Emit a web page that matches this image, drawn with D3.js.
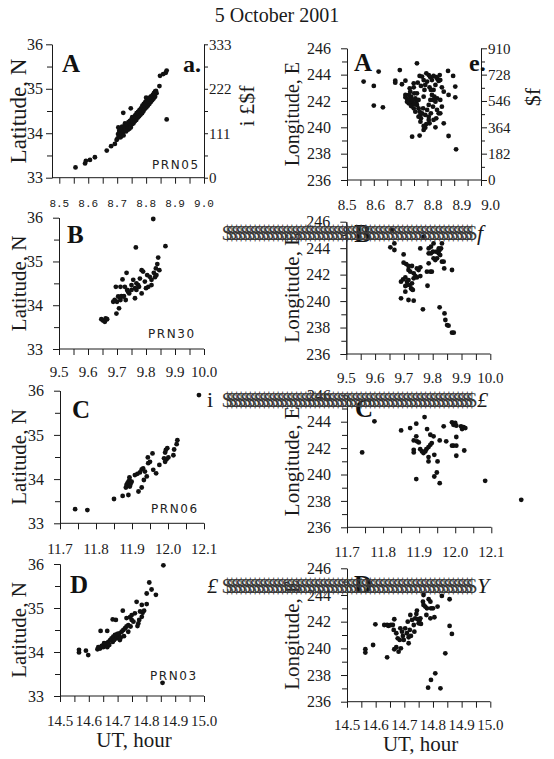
<!DOCTYPE html>
<html>
<head>
<meta charset="utf-8">
<script src="https://cdn.jsdelivr.net/npm/d3@7"></script>
<style>
  body { margin: 0; background: #fff; }
</style>
</head>
<body>
<svg id="chart" width="554" height="759"></svg>
<script>
// UT hour, latitude / longitude pairs
const prn05Lat = [
  [8.556,33.23],[8.589,33.32],[8.592,33.38],[8.606,33.40],[8.623,33.46],[8.664,33.61],[8.679,33.71],
  [8.692,33.76],[8.698,33.85],[8.712,33.91],[8.721,34.46],[8.747,34.56],[8.871,34.31],[8.846,35.06],
  [8.848,35.29],[8.859,35.33],[8.868,35.36],[8.871,35.41],[8.831,34.94],[8.823,34.86],
  [8.701,33.88],[8.703,33.98],[8.706,33.93],[8.707,34.05],[8.704,34.13],[8.711,33.96],[8.712,34.02],
  [8.709,34.10],[8.716,33.99],[8.714,34.08],[8.717,34.15],[8.721,34.03],[8.719,34.12],[8.722,33.95],
  [8.726,34.06],[8.724,34.15],[8.727,34.22],[8.731,34.04],[8.729,34.10],[8.732,34.18],[8.736,34.12],
  [8.734,34.20],[8.737,34.08],[8.741,34.15],[8.739,34.25],[8.742,34.10],[8.746,34.18],[8.744,34.28],
  [8.747,34.13],[8.751,34.20],[8.749,34.30],[8.752,34.36],[8.756,34.22],[8.754,34.28],[8.757,34.34],
  [8.761,34.27],[8.759,34.34],[8.762,34.40],[8.766,34.30],[8.764,34.38],[8.767,34.45],[8.771,34.35],
  [8.769,34.42],[8.772,34.48],[8.776,34.38],[8.774,34.45],[8.777,34.52],[8.781,34.42],[8.779,34.50],
  [8.782,34.56],[8.786,34.45],[8.784,34.53],[8.787,34.62],[8.791,34.50],[8.789,34.58],[8.792,34.66],
  [8.796,34.55],[8.794,34.62],[8.797,34.70],[8.801,34.58],[8.799,34.66],[8.802,34.74],[8.800,34.80],
  [8.806,34.62],[8.804,34.70],[8.807,34.77],[8.811,34.66],[8.809,34.73],[8.812,34.80],[8.816,34.70],
  [8.814,34.76],[8.817,34.83],[8.821,34.74],[8.819,34.80],[8.826,34.78],[8.824,34.84],[8.827,34.90],
  [8.831,34.82],[8.829,34.88],[8.836,34.90],[8.834,34.95]
];
const prn05Lon = [
  [8.562,243.47],[8.600,243.14],[8.600,241.65],[8.618,244.23],[8.634,241.52],[8.680,243.54],[8.680,243.39],
  [8.697,244.35],[8.705,243.27],[8.718,243.54],[8.718,242.46],[8.718,242.28],[8.743,239.29],[8.761,244.86],
  [8.771,239.37],[8.786,239.80],[8.792,239.97],[8.808,240.30],[8.830,240.00],[8.879,239.34],[8.877,244.28],
  [8.896,243.90],[8.904,243.09],[8.904,242.28],[8.907,238.33],[8.861,240.30],[8.879,242.46],
  [8.734,242.96],[8.736,242.71],[8.739,242.33],[8.736,242.08],[8.743,241.82],[8.734,241.95],[8.749,243.04],
  [8.751,242.58],[8.755,242.20],[8.759,241.95],[8.761,241.70],[8.767,241.44],[8.771,241.19],[8.774,240.94],
  [8.776,240.68],[8.780,241.06],[8.784,241.44],[8.786,242.33],[8.789,242.84],[8.792,243.22],[8.786,243.59],
  [8.780,243.85],[8.771,243.90],[8.796,244.10],[8.805,243.97],[8.811,243.80],[8.817,243.59],[8.823,243.90],
  [8.833,243.80],[8.838,243.65],[8.842,243.52],[8.848,243.59],[8.846,243.97],[8.830,243.22],[8.823,242.84],
  [8.817,242.46],[8.811,242.08],[8.805,241.70],[8.799,241.32],[8.792,240.94],[8.805,240.81],[8.813,241.06],
  [8.821,241.57],[8.830,241.95],[8.836,242.20],[8.848,242.08],[8.854,243.04],[8.861,242.71],[8.854,241.57],
  [8.836,241.32],[8.842,241.06],[8.848,241.06],[8.833,240.68],[8.823,240.56],[8.805,240.56],[8.796,240.25],
  [8.786,240.10],[8.761,242.58],[8.767,242.08],[8.749,241.44],[8.755,241.19],[8.767,240.81],[8.774,240.43],
  [8.749,243.34],[8.764,243.39],[8.776,243.14],[8.799,243.47],[8.808,243.04],[8.813,242.84],[8.826,242.33],
  [8.821,242.08],[8.726,242.13],[8.730,241.82],[8.724,241.95],[8.739,241.62],[8.746,242.08],[8.731,242.46],
  [8.751,241.77]
];
const prn30Lat = [
  [9.646,33.68],[9.652,33.65],[9.658,33.62],[9.661,33.70],[9.666,33.68],[9.696,34.42],[9.698,33.81],
  [9.700,34.08],[9.707,33.93],[9.712,34.42],[9.712,34.12],[9.719,34.59],[9.721,34.20],[9.727,34.42],
  [9.733,34.74],[9.735,34.35],[9.742,34.27],[9.750,34.46],[9.756,34.58],[9.762,34.16],[9.765,35.32],
  [9.767,34.35],[9.773,34.46],[9.779,34.61],[9.785,34.27],[9.785,34.80],[9.790,34.77],[9.796,34.54],
  [9.800,34.39],[9.804,34.69],[9.813,34.65],[9.819,34.58],[9.825,35.97],[9.827,34.74],[9.834,34.84],
  [9.836,34.69],[9.839,34.94],[9.846,34.80],[9.842,35.09],[9.867,35.35],[9.687,34.08],[9.692,34.12],
  [9.704,34.20],[9.710,34.18],[9.715,34.21],[9.724,34.21],[9.730,34.12],[9.738,34.31],[9.750,34.35],
  [9.762,34.39],[9.767,34.50],[9.776,34.42],[9.808,34.42],[9.819,34.46],[9.831,34.64]
];
const prn30Lon = [
  [9.653,244.06],[9.667,243.86],[9.667,244.36],[9.659,245.37],[9.699,243.53],[9.699,242.90],[9.708,242.80],
  [9.716,242.65],[9.728,242.65],[9.716,242.35],[9.722,242.22],[9.734,242.10],[9.745,242.47],[9.751,242.35],
  [9.690,241.47],[9.697,241.64],[9.705,241.79],[9.711,241.47],[9.716,241.59],[9.720,241.21],[9.728,241.34],
  [9.734,241.72],[9.740,241.89],[9.745,241.79],[9.725,240.96],[9.728,240.89],[9.731,240.84],[9.711,241.21],
  [9.705,241.14],[9.690,240.21],[9.705,240.71],[9.716,240.08],[9.734,240.03],[9.757,241.89],[9.757,242.55],
  [9.766,239.38],[9.757,243.98],[9.769,244.87],[9.782,241.16],[9.780,242.22],[9.786,242.85],[9.786,243.61],
  [9.786,243.98],[9.794,244.11],[9.794,243.61],[9.801,243.73],[9.803,243.23],[9.809,243.10],[9.815,243.23],
  [9.821,243.61],[9.824,243.86],[9.829,243.98],[9.832,244.36],[9.826,243.48],[9.821,243.98],[9.813,243.73],
  [9.803,244.36],[9.797,242.22],[9.792,242.22],[9.832,242.98],[9.838,242.98],[9.840,242.47],[9.867,242.35],
  [9.824,239.53],[9.841,239.07],[9.844,238.57],[9.850,238.19],[9.855,238.14],[9.867,237.61],[9.873,237.61]
];
const prn06Lat = [
  [11.742,33.32],[11.776,33.30],[11.850,33.55],[11.874,33.62],[11.883,33.81],[11.885,33.87],[11.887,33.90],
  [11.890,33.94],[11.893,33.98],[11.894,33.83],[11.896,33.89],[11.899,33.94],[11.893,34.04],[11.890,33.64],
  [11.918,33.72],[11.927,33.81],[11.933,33.98],[11.908,34.09],[11.915,34.12],[11.922,34.15],[11.927,34.22],
  [11.931,34.24],[11.936,34.17],[11.941,34.06],[11.944,34.49],[11.950,34.39],[11.957,34.58],[11.959,34.21],
  [11.967,34.13],[11.976,34.32],[11.989,34.47],[11.992,34.60],[11.994,34.66],[11.998,34.70],[11.996,34.45],
  [12.001,34.49],[12.015,34.54],[12.017,34.67],[12.024,34.79],[12.026,34.88],[12.086,35.90],[11.992,34.39],
  [11.945,34.36]
];
const prn06Lon = [
  [11.742,241.67],[11.776,244.03],[11.850,243.34],[11.875,243.52],[11.885,242.58],[11.892,243.85],[11.892,242.89],
  [11.885,241.87],[11.885,241.67],[11.894,242.51],[11.899,242.43],[11.903,241.92],[11.908,241.75],[11.912,241.62],
  [11.917,241.75],[11.920,241.92],[11.926,242.08],[11.931,242.25],[11.935,242.38],[11.892,239.65],[11.915,244.35],
  [11.922,243.44],[11.926,241.32],[11.926,240.99],[11.931,243.01],[11.940,242.89],[11.942,241.49],[11.942,239.85],
  [11.949,240.15],[11.951,240.99],[11.957,239.34],[11.957,242.58],[11.968,243.65],[11.975,242.51],[11.991,243.95],
  [11.995,243.77],[12.000,243.90],[12.003,243.70],[11.991,242.18],[11.995,242.18],[12.003,242.18],[12.003,242.84],
  [12.003,241.42],[12.016,243.65],[12.019,243.44],[12.023,243.59],[12.028,243.52],[12.025,241.82],[12.083,239.52],
  [12.183,238.08]
];
const prn03Lat = [
  [14.566,34.05],[14.566,33.99],[14.590,34.03],[14.598,33.93],[14.630,34.06],[14.639,34.08],[14.641,34.48],
  [14.650,34.11],[14.656,34.16],[14.662,34.20],[14.664,34.11],[14.668,34.23],[14.674,34.27],[14.679,34.31],
  [14.683,34.23],[14.685,34.35],[14.691,34.39],[14.697,34.31],[14.703,34.36],[14.706,34.42],[14.711,34.33],
  [14.714,34.46],[14.720,34.50],[14.722,34.36],[14.726,34.54],[14.731,34.58],[14.737,34.61],[14.737,34.46],
  [14.664,34.48],[14.683,34.74],[14.694,34.73],[14.718,34.94],[14.731,34.77],[14.743,34.79],[14.749,34.73],
  [14.755,34.69],[14.749,34.84],[14.760,34.88],[14.766,35.14],[14.769,34.59],[14.772,34.65],[14.775,34.73],
  [14.784,34.80],[14.787,34.89],[14.792,34.94],[14.778,34.92],[14.784,35.07],[14.801,35.09],[14.801,35.33],
  [14.810,35.58],[14.818,35.42],[14.833,35.30],[14.859,35.97],[14.856,33.30],[14.633,34.11],[14.645,34.14],
  [14.653,34.20],[14.671,34.16],[14.688,34.27],[14.699,34.41],[14.708,34.27],[14.745,34.58]
];
const prn03Lon = [
  [14.564,239.93],[14.564,239.68],[14.591,240.25],[14.599,241.80],[14.630,241.75],[14.640,241.75],[14.645,241.68],
  [14.653,241.75],[14.660,241.75],[14.640,239.33],[14.665,242.18],[14.665,239.93],[14.672,240.08],[14.680,239.75],
  [14.688,240.00],[14.663,241.38],[14.672,241.13],[14.677,240.75],[14.684,240.63],[14.686,241.50],[14.692,241.25],
  [14.695,240.93],[14.698,240.63],[14.703,241.50],[14.709,241.13],[14.715,240.83],[14.719,241.38],[14.723,240.93],
  [14.715,240.38],[14.712,242.00],[14.721,242.50],[14.727,242.13],[14.733,241.75],[14.735,241.25],[14.738,242.25],
  [14.742,242.58],[14.744,242.83],[14.747,242.18],[14.750,241.88],[14.753,242.08],[14.756,242.25],[14.758,241.83],
  [14.767,244.00],[14.765,243.50],[14.767,243.25],[14.773,243.13],[14.779,243.00],[14.785,243.68],[14.791,243.50],
  [14.793,243.00],[14.777,242.50],[14.791,242.25],[14.805,242.33],[14.800,243.00],[14.816,243.13],[14.831,243.93],
  [14.858,243.68],[14.858,241.68],[14.866,241.08],[14.843,239.63],[14.808,238.13],[14.793,237.63],[14.783,237.05],
  [14.826,237.00]
];

const latTicks = [33, 34, 35, 36];
const latMinor = [33.5, 34.5, 35.5];
const lonTicks = [236, 238, 240, 242, 244, 246];
const lonMinor = [237, 239, 241, 243, 245];
const rightTicksA = [0, 111, 222, 333];
const rightTicksE = [0, 182, 364, 546, 728, 910];
const utTicksA = [8.5, 8.6, 8.7, 8.8, 8.9, 9.0];
const utTicksB = [9.5, 9.6, 9.7, 9.8, 9.9, 10.0];
const utTicksC = [11.7, 11.8, 11.9, 12.0, 12.1];
const utTicksD = [14.5, 14.6, 14.7, 14.8, 14.9, 15.0];

const serif = "'Liberation Serif', 'Times New Roman', serif";
const ink = "#1a1a1a";
const svg = d3.select("#chart");

svg.append("text")
  .attr("x", 277).attr("y", 22)
  .attr("text-anchor", "middle")
  .attr("font-family", serif).attr("font-size", 20).attr("fill", ink)
  .text("5 October 2001");

function midpoints(ticks) {
  return d3.pairs(ticks).map(p => (p[0] + p[1]) / 2);
}

function drawPanel(p) {
  let x = d3.scaleLinear().domain(d3.extent(p.xTicks)).range(p.xRange);
  let y = d3.scaleLinear().domain(d3.extent(p.yTicks)).range(p.yRange);
  let bottom = p.yRange[0];
  let g = svg.append("g").style("color", ink);

  // left axis
  g.append("g")
    .attr("transform", "translate(" + p.axisX + ",0)")
    .call(d3.axisLeft(y).tickValues(p.yMinor).tickSize(5).tickSizeOuter(0).tickFormat(""));
  g.append("g")
    .attr("transform", "translate(" + p.axisX + ",0)")
    .call(d3.axisLeft(y).tickValues(p.yTicks).tickSize(6).tickSizeOuter(0).tickPadding(p.yPad)
      .tickFormat(d3.format("d")))
    .attr("font-family", serif).attr("font-size", 16);

  // bottom axis
  let xg = g.append("g").attr("transform", "translate(0," + bottom + ")");
  xg.call(d3.axisBottom(x).tickValues(p.xTicks.concat(midpoints(p.xTicks))).tickSize(6).tickFormat(""));
  xg.select(".domain").remove();
  g.append("line")
    .attr("x1", p.axisX).attr("x2", p.xEnd || p.xRange[1])
    .attr("y1", bottom).attr("y2", bottom)
    .attr("stroke", ink);

  let lx = p.labelRange ? x.copy().range(p.labelRange) : x;
  g.selectAll(".xlab")
    .data(p.xTicks)
    .enter()
    .append("text")
    .attr("x", d => lx(d))
    .attr("y", p.labelY)
    .attr("text-anchor", "middle")
    .attr("font-family", p.labelFont || serif)
    .attr("font-size", p.labelSize || 15)
    .attr("fill", ink)
    .text(d => d.toFixed(1));

  // right axis (top row only)
  if (p.right) {
    let yr = d3.scaleLinear().domain(d3.extent(p.right)).range(p.yRange);
    let rx = p.xEnd || p.xRange[1];
    g.append("g")
      .attr("transform", "translate(" + rx + ",0)")
      .call(d3.axisRight(y).tickValues(p.yMinor).tickSize(4).tickSizeOuter(0).tickFormat(""));
    g.append("g")
      .attr("transform", "translate(" + rx + ",0)")
      .call(d3.axisRight(yr).tickValues(p.right).tickSize(p.rTick).tickSizeOuter(0).tickPadding(1)
        .tickFormat(d3.format("d")))
      .attr("font-family", serif).attr("font-size", 15);
  }

  g.selectAll("circle")
    .data(p.data)
    .enter()
    .append("circle")
    .attr("cx", d => x(d[0]))
    .attr("cy", d => y(d[1]))
    .attr("r", 2.4)
    .attr("fill", "#111");

  // y title
  g.append("text")
    .attr("transform", "translate(" + p.titleX + "," + (p.yRange[0] + p.yRange[1]) / 2 + ") rotate(-90)")
    .attr("text-anchor", "middle")
    .attr("font-family", serif).attr("font-size", p.titleSize)
    .attr("fill", ink)
    .text(p.title);

  // x title on the bottom row
  if (p.xTitle) {
    g.append("text")
      .attr("x", (p.axisX + p.xRange[1]) / 2 + 2).attr("y", p.labelY + 21)
      .attr("text-anchor", "middle")
      .attr("font-family", serif).attr("font-size", 21)
      .attr("fill", ink)
      .text(p.xTitle);
  }

  // panel letters
  g.append("text")
    .attr("x", p.axisX + p.letterDx).attr("y", p.letterY)
    .attr("font-family", serif).attr("font-size", 25).attr("font-weight", "bold")
    .attr("fill", "#111")
    .text(p.letter);

  if (p.prn) {
    g.append("text")
      .attr("x", p.prnX).attr("y", p.prnY)
      .attr("font-family", "'DejaVu Sans', sans-serif").attr("font-size", 12)
      .attr("letter-spacing", 1.6)
      .attr("fill", "#222")
      .text(p.prn);
  }
  return g;
}

drawPanel({
  data: prn05Lat, xTicks: utTicksA, xRange: [59.3, 204], yTicks: latTicks, yMinor: latMinor,
  yRange: [177.7, 44.3], axisX: 52, yPad: 3, labelY: 207, labelFont: "'Liberation Mono', monospace",
  labelSize: 11, right: rightTicksA, rTick: 4, title: "Latitude, N", titleX: 26, titleSize: 23,
  letter: "A", letterDx: 10, letterY: 72, prn: "PRN05", prnX: 152, prnY: 169
});
drawPanel({
  data: prn05Lon, xTicks: utTicksA, xRange: [347, 481], labelRange: [347, 490.5], yTicks: lonTicks,
  yMinor: lonMinor, yRange: [180, 48.3], axisX: 347, yPad: 10, labelY: 210, right: rightTicksE, rTick: 6,
  title: "Longitude, E", titleX: 299, titleSize: 20, letter: "A", letterDx: 7, letterY: 71
});
drawPanel({
  data: prn30Lat, xTicks: utTicksB, xRange: [59, 204], yTicks: latTicks, yMinor: latMinor,
  yRange: [349, 217.7], axisX: 59, yPad: 10, labelY: 377, title: "Latitude, N", titleX: 26, titleSize: 21,
  letter: "B", letterDx: 8, letterY: 243, prn: "PRN30", prnX: 148, prnY: 338
});
drawPanel({
  data: prn30Lon, xTicks: utTicksB, xRange: [346.3, 490.3], yTicks: lonTicks, yMinor: lonMinor,
  yRange: [354, 221.7], axisX: 346.3, yPad: 10, labelY: 383, title: "Longitude, E", titleX: 299, titleSize: 21,
  letter: "B", letterDx: 8, letterY: 242
});
drawPanel({
  data: prn06Lat, xTicks: utTicksC, xRange: [60, 204], yTicks: latTicks, yMinor: latMinor,
  yRange: [523.3, 390.7], axisX: 60, yPad: 10, labelY: 554, title: "Latitude, N", titleX: 26, titleSize: 21,
  letter: "C", letterDx: 12, letterY: 418, prn: "PRN06", prnX: 151, prnY: 513
});
drawPanel({
  data: prn06Lon, xTicks: utTicksC, xRange: [347, 491.3], yTicks: lonTicks, yMinor: lonMinor,
  yRange: [527.3, 395.3], axisX: 347, yPad: 10, labelY: 557, title: "Longitude, E", titleX: 299, titleSize: 21,
  letter: "C", letterDx: 8, letterY: 417
});
drawPanel({
  data: prn03Lat, xTicks: utTicksD, xRange: [60, 204], yTicks: latTicks, yMinor: latMinor,
  yRange: [696, 564], axisX: 60, yPad: 10, labelY: 726, title: "Latitude, N", titleX: 26, titleSize: 21,
  letter: "D", letterDx: 10, letterY: 593, prn: "PRN03", prnX: 150, prnY: 680, xTitle: "UT, hour"
});
drawPanel({
  data: prn03Lon, xTicks: utTicksD, xRange: [347, 490.3], yTicks: lonTicks, yMinor: lonMinor,
  yRange: [701.7, 568.3], axisX: 347, yPad: 10, labelY: 730, title: "Longitude, E", titleX: 299, titleSize: 21,
  letter: "D", letterDx: 7, letterY: 593, xTitle: "UT, hour"
});

// corner tags and right-axis titles of the top row
svg.append("text").attr("x", 183).attr("y", 72)
  .attr("font-family", serif).attr("font-size", 24).attr("font-weight", "bold").attr("fill", "#111").text("a.");
svg.append("text").attr("x", 469).attr("y", 71)
  .attr("font-family", serif).attr("font-size", 24).attr("font-weight", "bold").attr("fill", "#111").text("e.");
svg.append("text")
  .attr("transform", "translate(254,106) rotate(-90)")
  .attr("text-anchor", "middle").attr("font-family", serif).attr("font-size", 22).attr("fill", ink)
  .text("i \u00a3$f");
svg.append("text")
  .attr("transform", "translate(540,97) rotate(-90)")
  .attr("text-anchor", "middle").attr("font-family", serif).attr("font-size", 22).attr("fill", ink)
  .text("$f");

// the garbled right-axis titles that run across rows B-D
const garble = [
  { y: 240, lead: "", tail: "f" },
  { y: 407, lead: "i", tail: "\u00a3" },
  { y: 593, lead: "\u00a3", tail: "Y" }
];
garble.forEach(function (r) {
  if (r.lead) {
    svg.append("text").attr("x", 207).attr("y", r.y)
      .attr("font-family", serif).attr("font-size", 22)
      .attr("font-style", r.lead === "i" ? "normal" : "italic").attr("fill", ink).text(r.lead);
  }
  svg.append("text").attr("x", 222).attr("y", r.y)
    .attr("font-family", serif).attr("font-size", 21).attr("fill", "#3a3a3a")
    .attr("textLength", 255).attr("lengthAdjust", "spacing")
    .text("$".repeat(54));
  svg.append("text").attr("x", 477).attr("y", r.y)
    .attr("font-family", serif).attr("font-size", 22).attr("font-style", "italic").attr("fill", ink).text(r.tail);
});
</script>
</body>
</html>
